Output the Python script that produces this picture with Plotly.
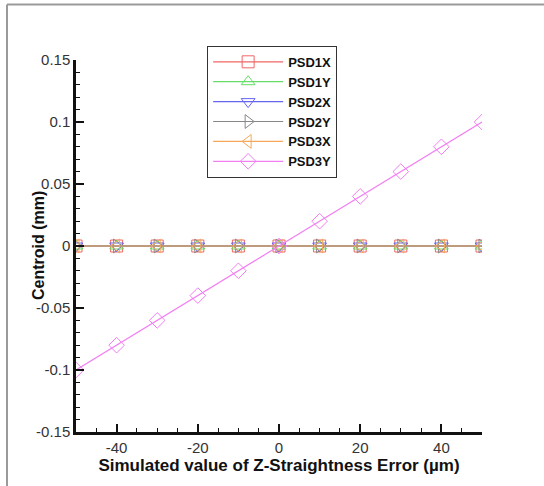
import plotly.graph_objects as go

x_vals = [-50, -40, -30, -20, -10, 0, 10, 20, 30, 40, 50]
psd1x = [0, 0, 0, 0, 0, 0, 0, 0, 0, 0, 0]
psd1y = [0, 0, 0, 0, 0, 0, 0, 0, 0, 0, 0]
psd2x = [0, 0, 0, 0, 0, 0, 0, 0, 0, 0, 0]
psd2y = [0, 0, 0, 0, 0, 0, 0, 0, 0, 0, 0]
psd3x = [0, 0, 0, 0, 0, 0, 0, 0, 0, 0, 0]
psd3y = [-0.1, -0.08, -0.06, -0.04, -0.02, 0, 0.02, 0.04, 0.06, 0.08, 0.1]

series = [
    ("PSD1X", psd1x, "#f06666", "square-open"),
    ("PSD1Y", psd1y, "#66dd66", "triangle-up-open"),
    ("PSD2X", psd2x, "#6666f0", "triangle-down-open"),
    ("PSD2Y", psd2y, "#888888", "triangle-right-open"),
    ("PSD3X", psd3x, "#f5a85a", "triangle-left-open"),
    ("PSD3Y", psd3y, "#f27ff2", "diamond-open"),
]

fig = go.Figure()
for name, ys, color, sym in series:
    fig.add_trace(go.Scatter(
        x=x_vals, y=ys, name=name, mode="lines+markers",
        line=dict(color=color, width=1.2),
        marker=dict(symbol=sym, size=12, color=color, line=dict(width=1, color=color)),
    ))

fig.update_layout(
    width=544, height=486,
    margin=dict(l=76, r=62, t=60, b=54),
    paper_bgcolor="white", plot_bgcolor="white",
    font=dict(family="Liberation Sans, Arial, sans-serif", color="#111111"),
    showlegend=True,
    legend=dict(
        x=0.323, y=1.038, xanchor="left", yanchor="top",
        bordercolor="#333333", borderwidth=1, bgcolor="white",
        font=dict(size=13, family="Liberation Sans, Arial, sans-serif", color="#111111", weight="bold"),
        itemwidth=70, tracegroupgap=0,
    ),
    shapes=[
        dict(type="line", xref="paper", yref="paper",
             x0=(7 - 76) / 406, x1=(7 - 76) / 406,
             y0=(432 - 600) / 372, y1=1 + (60 - 4.5) / 372,
             line=dict(color="#9a9a9a", width=2), layer="below"),
        dict(type="line", xref="paper", yref="paper",
             x0=(7 - 76) / 406, x1=(700 - 76) / 406,
             y0=1 + (60 - 4.5) / 372, y1=1 + (60 - 4.5) / 372,
             line=dict(color="#9a9a9a", width=2), layer="below"),
    ],
    annotations=[
        dict(text="Centroid (mm)", xref="paper", yref="paper",
             x=(38 - 76) / 406, y=0.5, xanchor="center", yanchor="middle",
             textangle=-90, showarrow=False,
             font=dict(size=16, weight="bold", color="#111111")),
    ],
)

fig.update_xaxes(
    range=[-50, 50], tickmode="array", tickvals=[-40, -20, 0, 20, 40],
    ticktext=["-40", "-20", "0", "20", "40"],
    ticks="inside", ticklen=8, tickwidth=2, tickcolor="#111111",
    minor=dict(dtick=5, ticks="inside", ticklen=4, tickwidth=1, tickcolor="#111111"),
    showline=True, linecolor="#111111", linewidth=2.5, mirror=False,
    showgrid=False, zeroline=False,
    tickfont=dict(size=15, color="#333333"),
    title=dict(text="Simulated value of Z-Straightness Error (µm)",
               font=dict(size=17, weight="bold"), standoff=0),
)
fig.update_yaxes(
    range=[-0.15, 0.15], tickmode="array",
    tickvals=[-0.15, -0.1, -0.05, 0, 0.05, 0.1, 0.15],
    ticktext=["-0.15", "-0.1", "-0.05", "0", "0.05", "0.1", "0.15"],
    ticks="inside", ticklen=8, tickwidth=2, tickcolor="#111111",
    minor=dict(dtick=0.01, ticks="inside", ticklen=4, tickwidth=1, tickcolor="#111111"),
    showline=True, linecolor="#111111", linewidth=2.5, mirror=False,
    showgrid=False, zeroline=False,
    tickfont=dict(size=15, color="#333333"),
)

fig.write_html("out.html")
